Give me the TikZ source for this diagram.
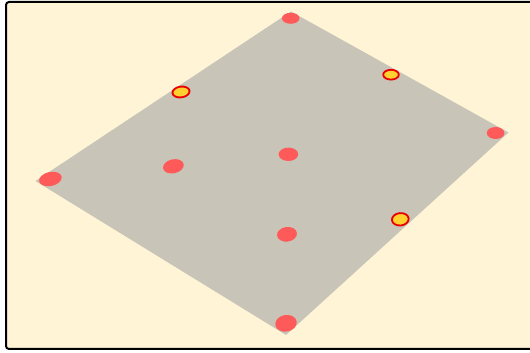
\documentclass[tikz,border=0pt]{standalone}
\usetikzlibrary{shapes.geometric}
\definecolor{bgyellow}{HTML}{FFF5D6}
\definecolor{plane}{HTML}{C8C4B8}
\definecolor{dotred}{HTML}{FF5A5A}
\definecolor{dotyellow}{HTML}{FFD030}
\definecolor{ringred}{HTML}{E80000}
\tikzset{
  reddot/.style={fill=dotred, draw=none},
  yeldot/.style={fill=dotyellow, draw=ringred, line width=1.8pt},
}
\begin{document}
\begin{tikzpicture}[x=1pt,y=1pt]
\useasboundingbox (0,0) rectangle (530,353);
\clip (0,0) rectangle (530,353);
\fill[white] (0,0) rectangle (530,353);
\draw[fill=bgyellow, line width=2pt, rounded corners=3pt] (6,4) rectangle (540,351);
% plane
\coordinate (T) at (291,341.5);
\coordinate (R) at (508.5,220.5);
\coordinate (B) at (286,18);
\coordinate (L) at (35.5,172);
\fill[plane] (T) -- (R) -- (B) -- (L) -- cycle;
% red dots
\fill[reddot] (290.7,334.7) ellipse [x radius=8.8, y radius=5.5];
\fill[reddot] (495.6,220) ellipse [x radius=8.8, y radius=6];
\fill[reddot] (288.4,198.7) ellipse [x radius=9.8, y radius=6.7];
\fill[reddot, rotate around={12:(173.4,186.7)}] (173.4,186.7) ellipse [x radius=10.5, y radius=7];
\fill[reddot, rotate around={12:(50.4,174)}] (50.4,174) ellipse [x radius=11.5, y radius=7];
\fill[reddot, rotate around={8:(287,118.7)}] (287,118.7) ellipse [x radius=10, y radius=7.3];
\fill[reddot, rotate around={10:(286,29.7)}] (286,29.7) ellipse [x radius=10.8, y radius=8.3];
% yellow dots
\draw[yeldot, rotate around={8:(181,261)}] (181,261) ellipse [x radius=8.6, y radius=5.4];
\draw[yeldot] (391,278.3) ellipse [x radius=7.8, y radius=4.9];
\draw[yeldot, rotate around={6:(400.3,133.7)}] (400.3,133.7) ellipse [x radius=8.4, y radius=6.2];
\end{tikzpicture}
\end{document}
